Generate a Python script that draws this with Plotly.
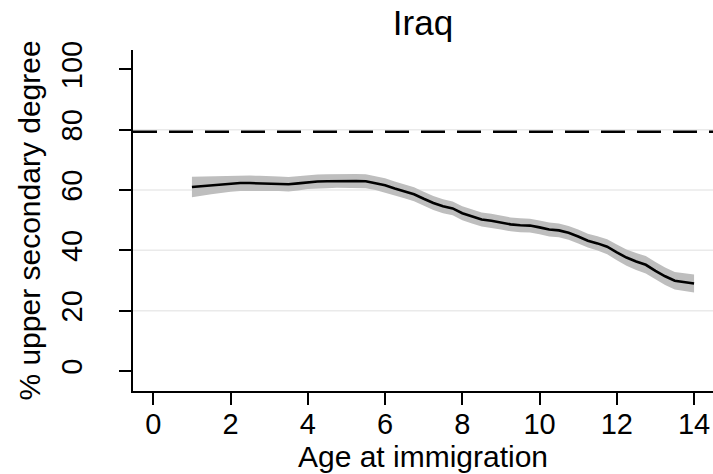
import plotly.graph_objects as go

age = [1.0, 1.25, 1.5, 1.75, 2.0, 2.25, 2.5, 2.75, 3.0, 3.25, 3.5, 3.75, 4.0, 4.25, 4.5, 4.75,
       5.0, 5.25, 5.5, 5.75, 6.0, 6.25, 6.5, 6.75, 7.0, 7.25, 7.5, 7.75, 8.0, 8.25, 8.5, 8.75,
       9.0, 9.25, 9.5, 9.75, 10.0, 10.25, 10.5, 10.75, 11.0, 11.25, 11.5, 11.75, 12.0, 12.25,
       12.5, 12.75, 13.0, 13.25, 13.5, 13.75, 14.0]
share = [61.0, 61.3, 61.6, 61.9, 62.1, 62.3, 62.3, 62.2, 62.2, 62.1, 61.9, 62.2, 62.6, 62.8, 62.9, 63.0,
         63.0, 63.0, 62.9, 62.3, 61.6, 60.5, 59.6, 58.6, 57.1, 55.7, 54.6, 53.9, 52.3, 51.2, 50.2, 49.8,
         49.2, 48.6, 48.3, 48.2, 47.6, 46.9, 46.6, 45.8, 44.6, 43.2, 42.3, 41.2, 39.3, 37.6,
         36.3, 35.2, 33.2, 31.4, 29.9, 29.4, 29.0]
upper = [64.4, 64.5, 64.6, 64.7, 64.8, 64.9, 64.8, 64.7, 64.7, 64.5, 64.3, 64.6, 64.9, 65.1, 65.2, 65.3,
         65.3, 65.3, 65.2, 64.6, 63.9, 62.8, 61.9, 60.9, 59.4, 58.0, 56.9, 56.2, 54.6, 53.5, 52.5, 52.1,
         51.5, 50.9, 50.6, 50.5, 49.9, 49.2, 48.9, 48.1, 46.9, 45.5, 44.7, 43.7, 41.9, 40.3,
         39.1, 38.1, 36.1, 34.3, 32.8, 32.3, 32.0]
lower = [57.6, 58.1, 58.6, 59.1, 59.4, 59.7, 59.8, 59.7, 59.7, 59.7, 59.5, 59.8, 60.3, 60.5, 60.6, 60.7,
         60.7, 60.7, 60.6, 60.0, 59.3, 58.2, 57.3, 56.3, 54.8, 53.4, 52.3, 51.6, 50.0, 48.9, 47.9, 47.5,
         46.9, 46.3, 46.0, 45.9, 45.3, 44.6, 44.3, 43.5, 42.3, 40.9, 39.9, 38.7, 36.7, 34.9,
         33.5, 32.3, 30.3, 28.5, 27.0, 26.5, 26.0]
native_level = 79.3
grid_values = [20, 40, 60, 80]
x_ticks = [0, 2, 4, 6, 8, 10, 12, 14]
y_ticks = [0, 20, 40, 60, 80, 100]

FONT = "Liberation Sans, Arial, Helvetica, sans-serif"

fig = go.Figure()

for g in grid_values:
    fig.add_hline(y=g, line=dict(color="#eaeaea", width=1.5), layer="below")

fig.add_trace(go.Scatter(x=age + age[::-1], y=upper + lower[::-1], fill="toself",
                         fillcolor="#bebebe", line=dict(width=0), mode="lines",
                         hoverinfo="skip", showlegend=False))
fig.add_trace(go.Scatter(x=age, y=share, mode="lines",
                         line=dict(color="black", width=2.6), showlegend=False))

fig.add_hline(y=native_level, line=dict(color="black", width=2.5, dash="24px,12px"))

fig.update_layout(
    width=713, height=474,
    margin=dict(l=133, r=0, t=50, b=83),
    paper_bgcolor="white", plot_bgcolor="white",
    font=dict(family=FONT, color="black"),
    title=dict(text="Iraq", x=(133 + 713) / 2 / 713, xanchor="center",
               y=1 - 23 / 474, yanchor="middle", yref="container",
               font=dict(size=35, family=FONT, color="black")),
    showlegend=False,
)
fig.update_xaxes(range=[-0.526, 14.49], tickvals=x_ticks, showgrid=False, zeroline=False,
                 showline=True, linecolor="black", linewidth=1.5,
                 ticks="outside", ticklen=12, tickwidth=1.5, tickcolor="black",
                 tickfont=dict(size=29, family=FONT), ticklabelstandoff=-6,
                 title=dict(text="Age at immigration", font=dict(size=30, family=FONT), standoff=0))
fig.update_yaxes(range=[-6.63, 106.4], tickvals=y_ticks, showgrid=False, zeroline=False,
                 showline=True, linecolor="black", linewidth=1.5,
                 ticks="outside", ticklen=12, tickwidth=1.5, tickcolor="black",
                 tickangle=-90, tickfont=dict(size=29, family=FONT), ticklabelstandoff=26,
                 title=dict(text="% upper secondary degree", font=dict(size=30, family=FONT), standoff=6))

fig.write_html("out.html")
